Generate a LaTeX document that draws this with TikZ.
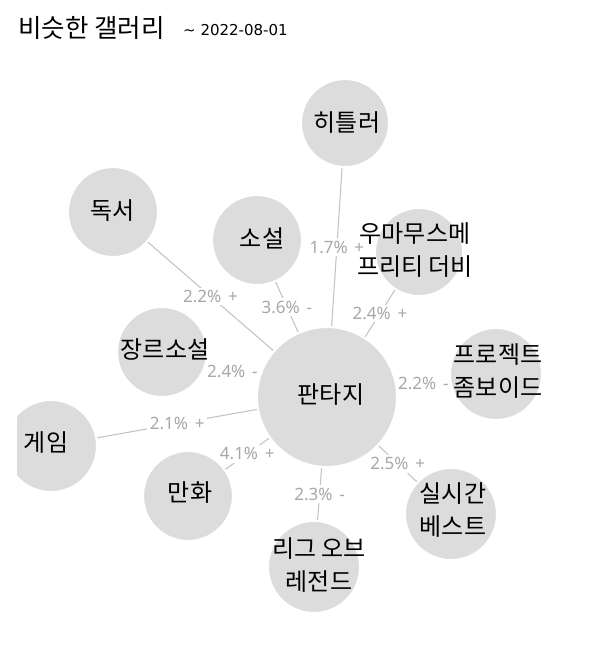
\documentclass[tikz,border=0pt]{standalone}
\usepackage{fontspec}
\setmainfont{Noto Sans CJK KR}
\newfontfamily\latinfont{Noto Sans}
\newfontfamily\datefont{DejaVu Sans}
\usetikzlibrary{backgrounds}
\definecolor{bub}{HTML}{DCDCDC}
\definecolor{edgegray}{HTML}{C4C4C4}
\definecolor{lblgray}{HTML}{A8A8A8}
\begin{document}
\begin{tikzpicture}[x=1pt,y=-1pt,
  bubble/.style={circle, fill=bub, draw=white, line width=2pt, inner sep=0pt, outer sep=0pt,
    minimum size=#1},
  bubtext/.style={inner sep=0pt, align=center, text=black, font=\fontsize{24}{33}\selectfont},
  link/.style={draw=edgegray, line width=1.1pt},
  pct/.style={fill=white, inner sep=2.5pt, text=lblgray, font=\latinfont\fontsize{17}{17}\selectfont}]
\useasboundingbox (0,0) rectangle (604,649);

% title
\node[anchor=base west, inner sep=0pt, font=\fontsize{25.5}{26}\selectfont] (title) at (18,37) {비슷한 갤러리};
\node[anchor=base west, inner sep=0pt, font=\datefont\fontsize{15}{15}\selectfont] (date) at (183,35.5) {\textasciitilde{} 2022-08-01};

% bubbles
\node[bubble=140pt] (P) at (327,397) {};
\node[bubble=88pt] (H) at (345,123) {};
\node[bubble=90pt] (D) at (113,212) {};
\node[bubble=90pt] (S) at (257,240) {};
\node[bubble=88pt] (U) at (419,252) {};
\node[bubble=90pt] (J) at (162,352) {};
\node[bubble=92pt] (Z) at (496,374) {};
\begin{scope}
  \clip (17,390) rectangle (110,500);
  \node[bubble=92pt] (G) at (51,446) {};
\end{scope}
\node[bubble=90pt] (M) at (188,496) {};
\node[bubble=92pt] (L) at (314,567) {};
\node[bubble=92pt] (R) at (451,514) {};

% bubble texts
\node[bubtext] (tP) at (331,395) {판타지};
\node[bubtext] (tH) at (347,123) {히틀러};
\node[bubtext] (tD) at (113,211) {독서};
\node[bubtext] (tS) at (262,238) {소설};
\node[bubtext] (tU) at (415,250) {우마무스메\\프리티 더비};
\node[bubtext] (tJ) at (165,349) {장르소설};
\node[bubtext] (tZ) at (498,371) {프로젝트\\좀보이드};
\node[bubtext] (tG) at (46,443) {게임};
\node[bubtext] (tM) at (190,493) {만화};
\node[bubtext] (tL) at (319,565) {리그 오브\\레전드};
\node[bubtext] (tR) at (453,510) {실시간\\베스트};

% links
\begin{pgfonlayer}{background}
  \path[link] (H) -- node[pct] (eH) {1.7\%\hspace{0.4em}+} (P);
  \path[link] (D) -- node[pct] (eD) {2.2\%\hspace{0.4em}+} (P);
  \path[link] (S) -- node[pct] (eS) {3.6\%\hspace{0.4em}-} (P);
  \path[link] (U) -- node[pct] (eU) {2.4\%\hspace{0.4em}+} (P);
  \path[link] (J) -- node[pct] (eJ) {2.4\%\hspace{0.4em}-} (P);
  \path[link] (Z) -- node[pct] (eZ) {2.2\%\hspace{0.4em}-} (P);
  \path[link] (G) -- node[pct] (eG) {2.1\%\hspace{0.4em}+} (P);
  \path[link] (M) -- node[pct] (eM) {4.1\%\hspace{0.4em}+} (P);
  \path[link] (L) -- node[pct] (eL) {2.3\%\hspace{0.4em}-} (P);
  \path[link] (R) -- node[pct] (eR) {2.5\%\hspace{0.4em}+} (P);
\end{pgfonlayer}
\end{tikzpicture}
\end{document}
